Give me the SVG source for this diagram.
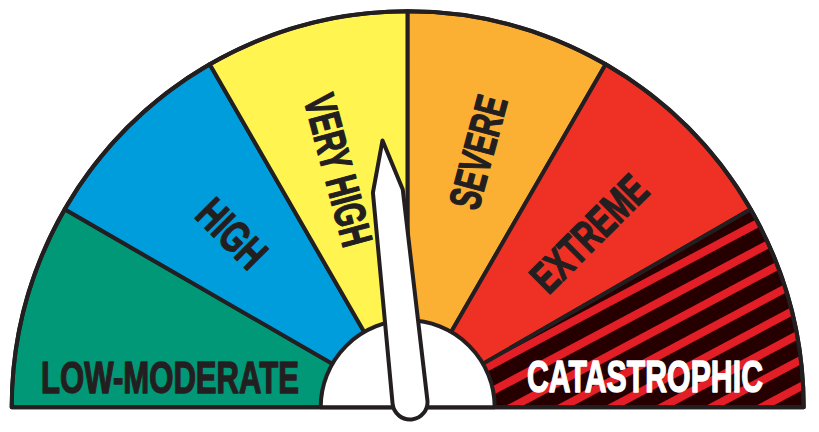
<svg xmlns="http://www.w3.org/2000/svg" width="819" height="432" viewBox="0 0 819 432">
<style>
.edge{stroke:#231f20;stroke-width:4;stroke-linejoin:round}
.lbl{font-family:"Liberation Sans Narrow","Liberation Sans",Arial,sans-serif;font-weight:bold;font-size:44px;fill:#231f20;stroke:#231f20;stroke-width:1.4;stroke-linejoin:round;text-anchor:middle}
.wht{fill:#ffffff;stroke:#ffffff}
.stripe{stroke:#e31e26;stroke-width:8}
</style>
<defs>
<clipPath id="catClip"><path d="M407.7 407.3 L750.65 209.3 A396 396 0 0 1 803.7 407.3 Z"/></clipPath>
</defs>
<rect width="819" height="432" fill="#ffffff"/>
<g id="low-moderate">
<path class="edge" fill="#009877" d="M407.7 407.3 L11.7 407.3 A396 396 0 0 1 64.75 209.3 Z"/>
<text class="lbl" x="170" y="393" textLength="258" lengthAdjust="spacingAndGlyphs">LOW-MODERATE</text>
</g>
<g id="high">
<path class="edge" fill="#009ddc" d="M407.7 407.3 L64.75 209.3 A396 396 0 0 1 209.7 64.35 Z"/>
<text class="lbl" transform="translate(232.5,233) rotate(45)" x="0" y="16" textLength="78" lengthAdjust="spacingAndGlyphs">HIGH</text>
</g>
<g id="very-high">
<path class="edge" fill="#fff450" d="M407.7 407.3 L209.7 64.35 A396 396 0 0 1 407.7 11.3 Z"/>
<text class="lbl" transform="translate(339,170) rotate(75)" x="0" y="16" textLength="155" lengthAdjust="spacingAndGlyphs">VERY HIGH</text>
</g>
<g id="severe">
<path class="edge" fill="#fbb034" d="M407.7 407.3 L407.7 11.3 A396 396 0 0 1 605.7 64.35 Z"/>
<text class="lbl" transform="translate(477.5,152) rotate(-75)" x="0" y="16" textLength="115" lengthAdjust="spacingAndGlyphs">SEVERE</text>
</g>
<g id="extreme">
<path class="edge" fill="#ee3124" d="M407.7 407.3 L605.7 64.35 A396 396 0 0 1 750.65 209.3 Z"/>
<text class="lbl" transform="translate(588.5,233) rotate(-45)" x="0" y="16" textLength="145" lengthAdjust="spacingAndGlyphs">EXTREME</text>
</g>
<g id="catastrophic">
<path fill="#260000" d="M407.7 407.3 L750.65 209.3 A396 396 0 0 1 803.7 407.3 Z"/>
<g clip-path="url(#catClip)">
<line class="stripe" x1="480" y1="344.3" x2="820" y2="163.5"/>
<line class="stripe" x1="480" y1="370.9" x2="820" y2="190.1"/>
<line class="stripe" x1="480" y1="397.5" x2="820" y2="216.7"/>
<line class="stripe" x1="480" y1="424.1" x2="820" y2="243.3"/>
<line class="stripe" x1="480" y1="450.7" x2="820" y2="269.9"/>
<line class="stripe" x1="480" y1="477.3" x2="820" y2="296.5"/>
<line class="stripe" x1="480" y1="503.9" x2="820" y2="323.1"/>
<line class="stripe" x1="480" y1="530.5" x2="820" y2="349.7"/>
<line class="stripe" x1="480" y1="557.1" x2="820" y2="376.3"/>
<line class="stripe" x1="480" y1="583.7" x2="820" y2="402.9"/>
<line class="stripe" x1="480" y1="610.3" x2="820" y2="429.5"/>
</g>
<path class="edge" fill="none" d="M407.7 407.3 L750.65 209.3 A396 396 0 0 1 803.7 407.3 Z"/>
<text class="lbl wht" x="645" y="392" textLength="236" lengthAdjust="spacingAndGlyphs">CATASTROPHIC</text>
</g>
<g id="outline">
<path class="edge" fill="none" d="M11.7 407.3 A396 396 0 0 1 803.7 407.3 Z"/>
</g>
<g id="hub">
<path class="edge" fill="#ffffff" d="M320.7 407.3 A87 87 0 0 1 494.7 407.3 Z"/>
</g>
<g id="needle">
<path class="edge" fill="#ffffff" stroke-linejoin="miter" stroke-miterlimit="10" transform="translate(410,402) rotate(-6)" d="M-17.5 0 L-15 -212 L0 -263 L15 -212 L17.5 0 A17.5 17.5 0 0 1 -17.5 0 Z"/>
</g>
</svg>
